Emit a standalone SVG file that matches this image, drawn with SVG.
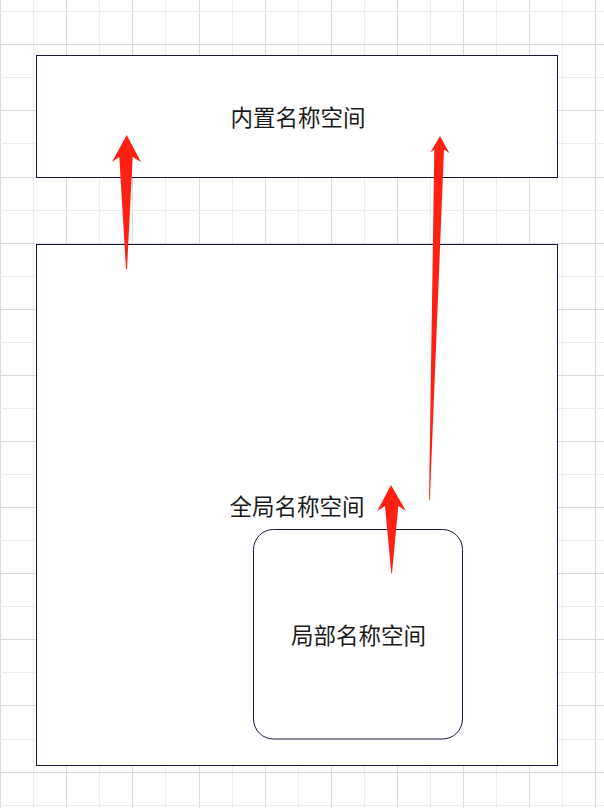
<svg xmlns="http://www.w3.org/2000/svg" width="604" height="808" viewBox="0 0 604 808">
<style>
.gl{stroke:#ededed;stroke-width:1}
.gd{stroke:#dcdcdc;stroke-width:1}
.box{fill:#ffffff;stroke:#15183d;stroke-width:1}
.lbl{font-family:"Noto Sans CJK SC","Microsoft YaHei",sans-serif;font-size:22.5px;fill:#1a1a1a;text-anchor:middle;dominant-baseline:central}
.arr{fill:#ff2014;stroke:none}
</style>
<rect x="0" y="0" width="604" height="808" fill="#ffffff"/>
<g id="grid">
<line class="gd" x1="0.5" y1="0" x2="0.5" y2="808"/>
<line class="gl" x1="33.5" y1="0" x2="33.5" y2="808"/>
<line class="gd" x1="66.5" y1="0" x2="66.5" y2="808"/>
<line class="gl" x1="99.5" y1="0" x2="99.5" y2="808"/>
<line class="gd" x1="132.5" y1="0" x2="132.5" y2="808"/>
<line class="gl" x1="165.5" y1="0" x2="165.5" y2="808"/>
<line class="gd" x1="199.5" y1="0" x2="199.5" y2="808"/>
<line class="gl" x1="232.5" y1="0" x2="232.5" y2="808"/>
<line class="gd" x1="265.5" y1="0" x2="265.5" y2="808"/>
<line class="gl" x1="298.5" y1="0" x2="298.5" y2="808"/>
<line class="gd" x1="331.5" y1="0" x2="331.5" y2="808"/>
<line class="gl" x1="364.5" y1="0" x2="364.5" y2="808"/>
<line class="gd" x1="397.5" y1="0" x2="397.5" y2="808"/>
<line class="gl" x1="430.5" y1="0" x2="430.5" y2="808"/>
<line class="gd" x1="463.5" y1="0" x2="463.5" y2="808"/>
<line class="gl" x1="496.5" y1="0" x2="496.5" y2="808"/>
<line class="gd" x1="529.5" y1="0" x2="529.5" y2="808"/>
<line class="gl" x1="562.5" y1="0" x2="562.5" y2="808"/>
<line class="gd" x1="595.5" y1="0" x2="595.5" y2="808"/>
<line class="gl" x1="0" y1="11.5" x2="604" y2="11.5"/>
<line class="gd" x1="0" y1="44.5" x2="604" y2="44.5"/>
<line class="gl" x1="0" y1="77.5" x2="604" y2="77.5"/>
<line class="gd" x1="0" y1="110.5" x2="604" y2="110.5"/>
<line class="gl" x1="0" y1="143.5" x2="604" y2="143.5"/>
<line class="gd" x1="0" y1="177.5" x2="604" y2="177.5"/>
<line class="gl" x1="0" y1="210.5" x2="604" y2="210.5"/>
<line class="gd" x1="0" y1="243.5" x2="604" y2="243.5"/>
<line class="gl" x1="0" y1="276.5" x2="604" y2="276.5"/>
<line class="gd" x1="0" y1="309.5" x2="604" y2="309.5"/>
<line class="gl" x1="0" y1="342.5" x2="604" y2="342.5"/>
<line class="gd" x1="0" y1="375.5" x2="604" y2="375.5"/>
<line class="gl" x1="0" y1="408.5" x2="604" y2="408.5"/>
<line class="gd" x1="0" y1="441.5" x2="604" y2="441.5"/>
<line class="gl" x1="0" y1="474.5" x2="604" y2="474.5"/>
<line class="gd" x1="0" y1="507.5" x2="604" y2="507.5"/>
<line class="gl" x1="0" y1="540.5" x2="604" y2="540.5"/>
<line class="gd" x1="0" y1="573.5" x2="604" y2="573.5"/>
<line class="gl" x1="0" y1="606.5" x2="604" y2="606.5"/>
<line class="gd" x1="0" y1="639.5" x2="604" y2="639.5"/>
<line class="gl" x1="0" y1="672.5" x2="604" y2="672.5"/>
<line class="gd" x1="0" y1="705.5" x2="604" y2="705.5"/>
<line class="gl" x1="0" y1="739.5" x2="604" y2="739.5"/>
<line class="gd" x1="0" y1="772.5" x2="604" y2="772.5"/>
<line class="gl" x1="0" y1="805.5" x2="604" y2="805.5"/>
</g>
<g id="builtin">
<rect class="box" x="36.5" y="55.5" width="521" height="122"/>
<text class="lbl" x="298" y="116">内置名称空间</text>
</g>
<g id="global">
<rect class="box" x="36.5" y="244.5" width="521" height="521"/>
<text class="lbl" x="297" y="504.5">全局名称空间</text>
</g>
<g id="local">
<rect class="box" x="253.5" y="529.5" width="209" height="209.5" rx="20" ry="20"/>
<text class="lbl" x="358.5" y="634">局部名称空间</text>
</g>
<g id="connectors">
<polygon class="arr" points="126.7,135 141,162 132.7,157 127,269 126,269 119.3,157 112,162"/>
<polygon class="arr" points="440,136 449.3,153 444,149.5 429.8,500 429,500 434.3,149.5 430.3,152.5"/>
<polygon class="arr" points="391,485 406,511 398.3,506 392,573.5 391.3,573.5 385,506 377.3,511"/>
</g>
</svg>
